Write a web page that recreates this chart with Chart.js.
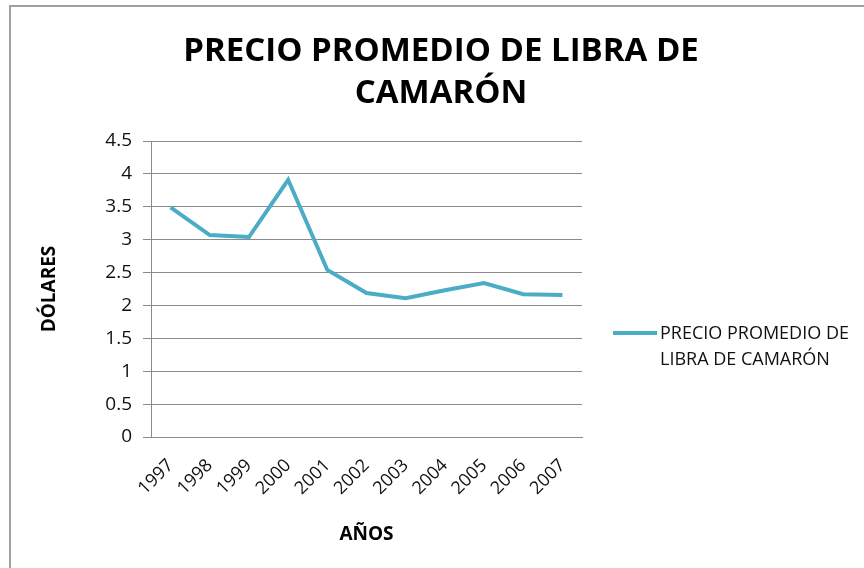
<!DOCTYPE html>
<html>
<head>
<meta charset="utf-8">
<script src="https://cdn.jsdelivr.net/npm/chart.js@4/dist/chart.umd.min.js"></script>
<style>
  html, body { margin: 0; padding: 0; background: #fff; }
  #marco { position: absolute; left: 9px; top: 5px; width: 870px; height: 580px; border: 2px solid #a0a0a0; box-sizing: border-box; }
  #caja { position: absolute; left: 0; top: 0; width: 864px; height: 568px; }
  #leyenda { position: absolute; left: 613px; top: 319px; font-family: "Open Sans", sans-serif; font-size: 18px; color: #111; line-height: 26px; }
  #leyenda .muestra { position: absolute; left: 0; top: 12px; width: 44px; height: 4px; background: #4bacc6; }
  #leyenda .texto { position: absolute; left: 47px; top: 0; white-space: nowrap; }
</style>
</head>
<body>
<div id="marco"></div>
<div id="caja"><canvas id="grafica"></canvas></div>
<div id="leyenda"><div class="muestra"></div><div class="texto"></div></div>
<script>
const anios = ['1997', '1998', '1999', '2000', '2001', '2002', '2003', '2004', '2005', '2006', '2007']
const precios = [3.49, 3.07, 3.04, 3.91, 2.54, 2.19, 2.11, 2.23, 2.34, 2.17, 2.16]
const nombreSerie = ['PRECIO PROMEDIO DE', 'LIBRA DE CAMARÓN']
const titulo = ['PRECIO PROMEDIO DE LIBRA DE', 'CAMARÓN']

document.querySelector('#leyenda .texto').innerHTML = nombreSerie.join('<br>')

const fuente = '"Open Sans", sans-serif'
const canvas = document.getElementById('grafica')
new Chart(canvas, {
    type: 'line',
    data: {
        labels: anios,
        datasets: [{
            label: nombreSerie.join(' '),
            data: precios,
            borderColor: '#4bacc6',
            backgroundColor: '#4bacc6',
            borderWidth: 4,
            pointRadius: 0,
            tension: 0
        }]
    },
    options: {
        responsive: true,
        maintainAspectRatio: false,
        animation: false,
        layout: { padding: { left: 18, right: 0, top: 0, bottom: 14 } },
        plugins: {
            legend: { display: false },
            tooltip: { enabled: false },
            title: {
                display: true,
                text: titulo,
                color: '#000',
                font: { family: fuente, size: 33, weight: 'bold', lineHeight: 1.273 },
                padding: { top: 31, bottom: 26 }
            }
        },
        scales: {
            x: {
                offset: true,
                grid: { display: false, drawTicks: false },
                border: { color: '#8a8a8a', width: 1 },
                ticks: { color: '#111', font: { family: fuente, size: 18 }, maxRotation: 45, minRotation: 45, padding: 18 },
                title: { display: true, text: 'AÑOS', color: '#000', font: { family: fuente, size: 19, weight: 'bold' }, padding: { top: 10, bottom: 8 } },
                afterFit: (eje) => { eje.height = 117 }
            },
            y: {
                min: 0,
                max: 4.5,
                ticks: { stepSize: 0.5, color: '#111', font: { family: fuente, size: 19 }, padding: 11, callback: (v) => String(v) },
                grid: { color: '#8a8a8a', tickLength: 8 },
                border: { color: '#8a8a8a', width: 1 },
                title: { display: true, text: 'DÓLARES', color: '#000', font: { family: fuente, size: 19, weight: 'bold' }, padding: { top: 20, bottom: 0 } },
                afterFit: (eje) => { eje.width = 133 }
            },
            espacioLeyenda: {
                type: 'linear',
                position: 'right',
                grid: { display: false },
                border: { display: false },
                ticks: { display: false },
                afterFit: (eje) => { eje.width = 282 }
            }
        }
    }
})
</script>
</body>
</html>
